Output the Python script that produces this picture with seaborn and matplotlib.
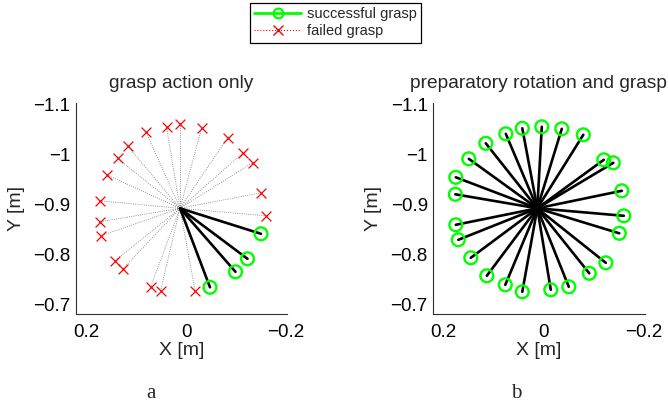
import matplotlib
matplotlib.use("Agg")
import matplotlib.pyplot as plt
from matplotlib.lines import Line2D
import pandas as pd
import seaborn as sns

# Common start point of every approach (object position) [m]
origin_x = 0.012
origin_y = -0.892

# Panel a: grasp action only -- end points of failed approaches
a_fail_x = [0.012, 0.039, -0.031, 0.080, -0.083, 0.117, 0.137, -0.113, -0.133, 0.159,
            -0.150, 0.173, -0.160, 0.172, 0.170, 0.142, 0.127, 0.071, 0.051, -0.018]
a_fail_y = [-1.060, -1.054, -1.052, -1.045, -1.033, -1.017, -0.992, -1.002, -0.983, -0.959,
            -0.923, -0.907, -0.877, -0.865, -0.837, -0.787, -0.770, -0.734, -0.727, -0.727]
# Panel a: end points of successful approaches
a_ok_x = [-0.150, -0.123, -0.099, -0.048]
a_ok_y = [-0.841, -0.791, -0.765, -0.734]

# Panel b: preparatory rotation and grasp -- all approaches succeed
b_ok_x = [0.003, -0.037, -0.080, -0.121, -0.140, -0.157, -0.161, -0.152, -0.125, -0.092,
          -0.051, -0.015, 0.042, 0.076, 0.113, 0.145, 0.170, 0.175, 0.176, 0.175,
          0.149, 0.115, 0.075, 0.042]
b_ok_y = [-1.055, -1.051, -1.039, -0.989, -0.983, -0.927, -0.877, -0.842, -0.783, -0.762,
          -0.735, -0.729, -0.725, -0.739, -0.757, -0.793, -0.829, -0.859, -0.920, -0.954,
          -0.991, -1.022, -1.041, -1.052]

x_ticks = [0.2, 0.0, -0.2]
x_tick_labels = ["0.2", "0", "\u22120.2"]
y_ticks = [-1.1, -1.0, -0.9, -0.8, -0.7]
y_tick_labels = ["\u22121.1", "\u22121", "\u22120.9", "\u22120.8", "\u22120.7"]

titles = ["grasp action only", "preparatory rotation and grasp"]
panel_letters = ["a", "b"]

GREEN = "#00ff00"
RED = "#ff0000"
AX_COLOR = "#303030"

sns.set_style("white")
plt.rcParams["font.family"] = ["Liberation Sans", "DejaVu Sans"]
plt.rcParams["axes.unicode_minus"] = True


def segments(xs, ys):
    """Long-form table with one start/end pair of rows per approach."""
    rows = []
    for i, (x, y) in enumerate(zip(xs, ys)):
        rows.append({"id": i, "x": origin_x, "y": origin_y})
        rows.append({"id": i, "x": x, "y": y})
    return pd.DataFrame(rows)


def style_axes(ax, title):
    ax.set_xlim(0.22, -0.2025)
    ax.set_ylim(-0.68, -1.102)
    ax.set_xticks(x_ticks)
    ax.set_xticklabels(x_tick_labels)
    ax.set_yticks(y_ticks)
    ax.set_yticklabels(y_tick_labels)
    ax.tick_params(direction="in", length=4, width=0.8, colors=AX_COLOR,
                   labelcolor="black", labelsize=13.5)
    ax.tick_params(axis="x", pad=7)
    ax.tick_params(axis="y", pad=4)
    for side in ("top", "right"):
        ax.spines[side].set_visible(False)
    for side in ("left", "bottom"):
        ax.spines[side].set_color(AX_COLOR)
        ax.spines[side].set_linewidth(0.8)
    ax.set_xlabel("X [m]", fontsize=14, labelpad=1)
    ax.set_ylabel("Y [m]", fontsize=14, labelpad=6)
    ax.set_title(title, fontsize=13.8, pad=11)


fig = plt.figure(figsize=(6.68, 4.05), dpi=100)
W, H = 668, 405
ax_a = fig.add_axes([76 / W, (H - 314.3) / H, 211.25 / W, 211 / H])
ax_b = fig.add_axes([433.3 / W, (H - 314.3) / H, 211.25 / W, 211 / H])

# Panel a
sns.lineplot(data=segments(a_fail_x, a_fail_y), x="x", y="y", units="id",
             estimator=None, sort=False, color="black", linestyle=":",
             linewidth=0.6, alpha=0.55, ax=ax_a, legend=False)
sns.lineplot(data=segments(a_ok_x, a_ok_y), x="x", y="y", units="id",
             estimator=None, sort=False, color="black", linewidth=1.9,
             ax=ax_a, legend=False)
sns.scatterplot(x=a_fail_x, y=a_fail_y, marker="x", s=50, color=RED,
                linewidth=0.9, ax=ax_a, zorder=3)
sns.scatterplot(x=a_ok_x, y=a_ok_y, marker="o", s=85, facecolor="none",
                edgecolor=GREEN, linewidth=1.7, ax=ax_a, zorder=3)

# Panel b
sns.lineplot(data=segments(b_ok_x, b_ok_y), x="x", y="y", units="id",
             estimator=None, sort=False, color="black", linewidth=1.9,
             ax=ax_b, legend=False)
sns.scatterplot(x=b_ok_x, y=b_ok_y, marker="o", s=85, facecolor="none",
                edgecolor=GREEN, linewidth=1.7, ax=ax_b, zorder=3)

for ax, title in zip((ax_a, ax_b), titles):
    style_axes(ax, title)

# Shared legend above both panels
handles = [
    Line2D([], [], color=GREEN, linewidth=2, marker="o", markersize=7,
           markerfacecolor="none", markeredgecolor=GREEN, markeredgewidth=1.6),
    Line2D([], [], color=RED, linewidth=0.8, linestyle=":", marker="x",
           markersize=7, markeredgewidth=1.0),
]
leg = fig.legend(handles, ["successful grasp", "failed grasp"],
                 loc="upper center", bbox_to_anchor=(335.5 / W, 1 - 3 / H),
                 fontsize=10.5, frameon=True, fancybox=False, framealpha=1,
                 edgecolor="black", handlelength=3.2, handletextpad=0.4,
                 borderpad=0.3, labelspacing=0.2, borderaxespad=0)
leg.get_frame().set_linewidth(0.9)

# Panel letters under each panel
for x_px, letter in zip((150.7, 516.7), panel_letters):
    fig.text(x_px / W, 1 - 398 / H, letter,
             family=["Liberation Serif", "DejaVu Serif"], fontsize=15,
             ha="center", va="baseline")

fig.savefig("out.png", dpi=100)
